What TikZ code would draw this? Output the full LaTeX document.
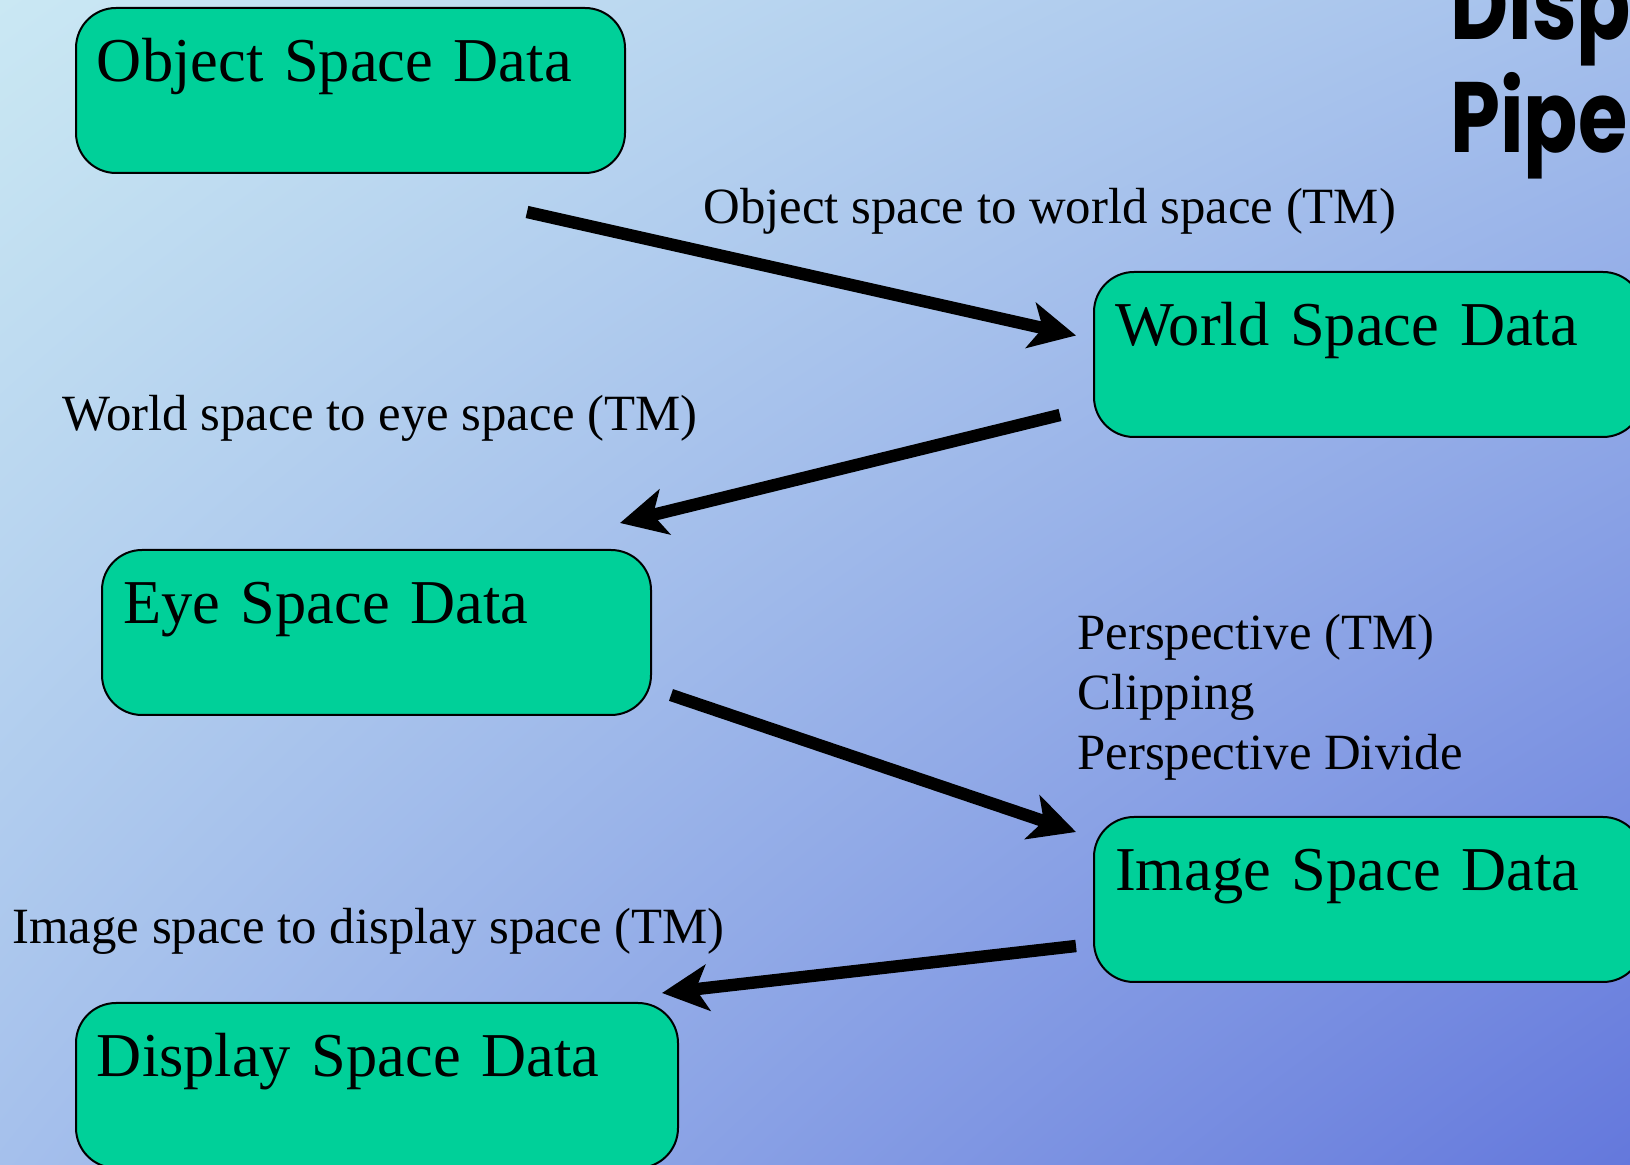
\documentclass[tikz,border=0pt]{standalone}
\usepackage{fontspec}
\setmainfont{Liberation Serif}
\newfontfamily\titlefont{Poppins}[FakeStretch=0.8]
\usetikzlibrary{arrows.meta,positioning,shadings}

\definecolor{boxgreen}{RGB}{0,208,153}
\definecolor{bgtl}{RGB}{202,232,243}
\definecolor{bgmid}{RGB}{165,192,236}
\definecolor{bgbr}{RGB}{100,120,220}

\begin{document}
\begin{tikzpicture}[
            x=0.5pt,y=-0.5pt,
            databox/.style={draw,line width=1pt,rounded corners=20pt,fill=boxgreen,
                anchor=north west,align=left,text width=253.5pt,
                inner xsep=10.5pt,inner ysep=0pt,text height=37pt,text depth=45.5pt,
                font=\fontsize{31.2}{38}\selectfont},
            steplabel/.style={anchor=base west,inner sep=0pt,align=left,
                font=\fontsize{25.4}{30}\selectfont},
            thickarrow/.style={line width=6.2pt,-{Stealth[length=23pt,width=23pt,inset=6pt]}}
        ]
            \useasboundingbox (0,0) rectangle (1630,1165);
            \clip (0,0) rectangle (1630,1165);
            \shade[upper left=bgtl,upper right=bgmid,lower left=bgmid,lower right=bgbr]
                (0,0) rectangle (1630,1165);
            % title, cut off by the page edge (base = last line)
            \node (title) [anchor=base west,inner sep=0pt,align=left,
                font=\titlefont\bfseries\fontsize{50}{56.5}\selectfont] at (1450,153) {Disp\\Pipe};
            % the five spaces
            \node (obj)   [databox] at (75,7)    {Object Space Data};
            \node (world) [databox] at (1093,271) {World Space Data};
            \node (eye)   [databox] at (101,549) {Eye Space Data};
            \node (image) [databox] at (1093,816) {Image Space Data};
            \node (disp)  [databox,text width=280pt] at (75,1002) {Display Space Data};
            % transforms between them
            \draw[thickarrow] ([shift={(-99,38)}]obj.south east) -- ([shift={(-17,-19)}]world.west);
            \draw[thickarrow] ([shift={(-33,-23)}]world.south west) -- ([shift={(-32,-26)}]eye.north east);
            \draw[thickarrow] ([shift={(19,-21)}]eye.south east) -- ([shift={(-17,16)}]image.north west);
            \draw[thickarrow] ([shift={(-17,-37)}]image.south west) -- ([shift={(-17,-9)}]disp.north east);
            \node (l1) [steplabel] at (703,224) {Object space to world space (TM)};
            \node (l2) [steplabel] at (62,431)  {World space to eye space (TM)};
            \node (l3) [steplabel] at (1077,770) {Perspective (TM)\\Clipping\\Perspective Divide};
            \node (l4) [steplabel] at (12,944)  {Image space to display space (TM)};
        \end{tikzpicture}
\end{document}
